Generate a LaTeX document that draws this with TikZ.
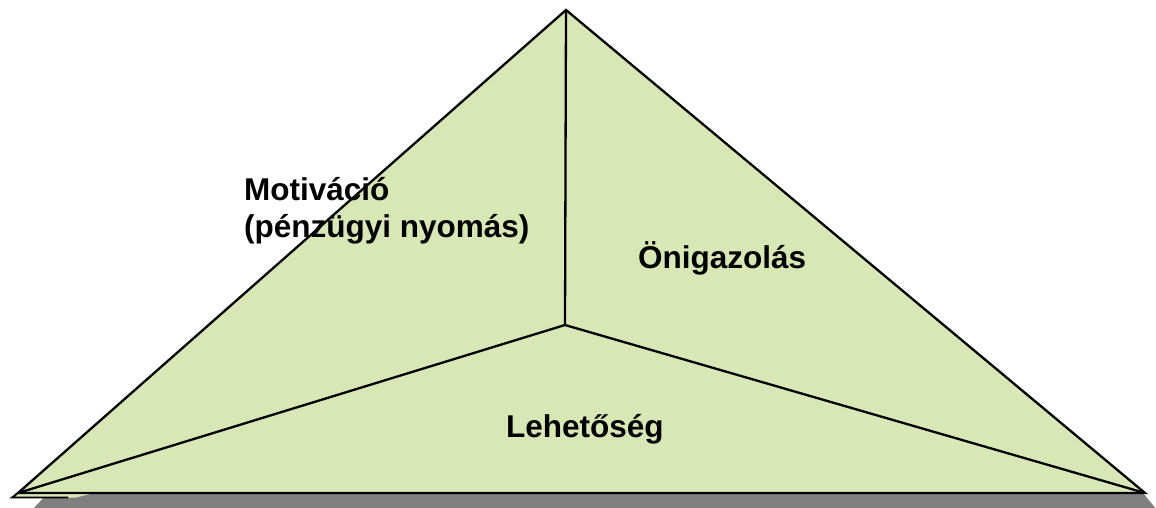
\documentclass[tikz,border=0pt]{standalone}
\usepackage{fontspec}
\setmainfont{Liberation Sans}
\definecolor{facegreen}{HTML}{D7E7B5}
\definecolor{shadowgray}{HTML}{808080}
\tikzset{
  face/.style={fill=facegreen, draw=none},
  edge/.style={draw=black, line width=2.3pt, line join=miter},
  lbl/.style={anchor=base west, inner sep=0pt, font=\bfseries\fontsize{31.5}{36.5}\selectfont, align=left}
}
\begin{document}
\begin{tikzpicture}[x=1pt,y=-1pt]
\useasboundingbox (0,0) rectangle (1156,508);
\coordinate (A) at (566,10);
\coordinate (O) at (565,325);
\coordinate (BL) at (18,493);
\coordinate (BR) at (1145,493);
\coordinate (SL) at (12,497.5);
\coordinate (SE) at (68,497.5);
% shadow
\fill[shadowgray] (48,493) -- (1143,493) -- (1157,510) -- (32,510) -- cycle;
% thin base sliver
\fill[facegreen] (BL) -- (SL) -- (76,497.5) -- (90,494) -- cycle;
% faces
\fill[face] (A) -- (O) -- (BL) -- cycle;
\fill[face] (A) -- (O) -- (BR) -- cycle;
\fill[face] (BL) -- (O) -- (BR) -- cycle;
% labels
\node[lbl] (mot) at (244,237) {Motiváció\\(pénzügyi nyomás)};
\node[lbl] (oni) at (638,268) {Önigazolás};
\node[lbl] (leh) at (506,437) {Lehetőség};
% edges
\draw[edge] (BL) -- (A) -- (BR) -- cycle;
\draw[edge] (A) -- (O);
\draw[edge] (BL) -- (O) -- (BR);
\draw[edge, line width=1.8pt] (BL) -- (SL) -- (SE);
\end{tikzpicture}
\end{document}
